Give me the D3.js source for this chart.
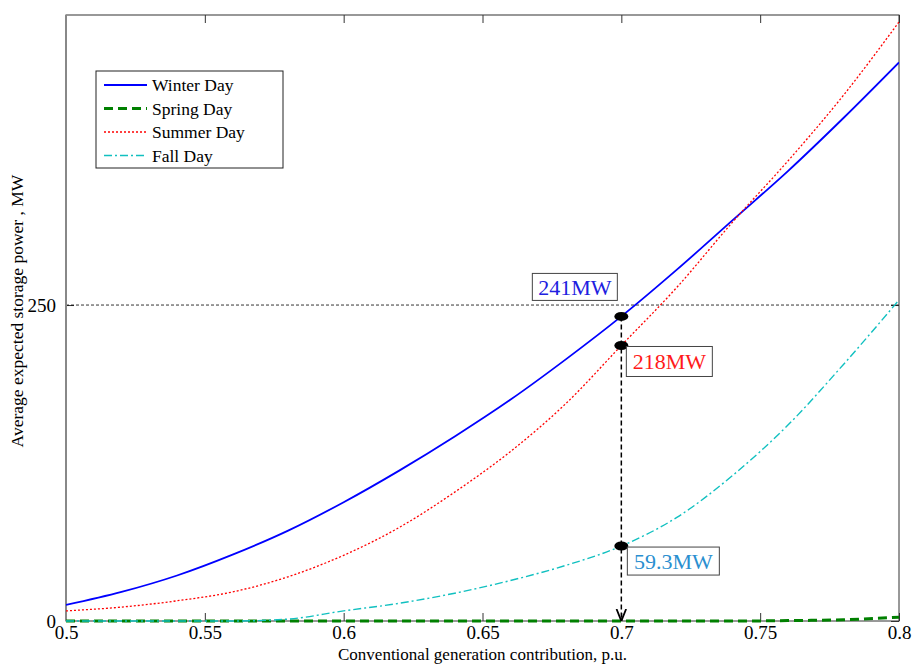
<!DOCTYPE html>
<html>
<head>
<meta charset="utf-8">
<script src="https://cdn.jsdelivr.net/npm/d3@7"></script>
<style>
  body { margin: 0; background: #fff; }
  svg text { font-family: "Liberation Serif", "Times New Roman", serif; }
</style>
</head>
<body>
<div id="chart"></div>
<script>
// chart data
var xs = [0.5, 0.52, 0.54, 0.56, 0.58, 0.6, 0.62, 0.64, 0.66, 0.68, 0.7, 0.72, 0.74, 0.76, 0.78, 0.8];
var winter = [12.7, 23, 36, 52.5, 71.5, 94, 119, 146, 175, 207, 241, 278, 317, 356, 398, 442];
var spring = [0, 0, 0, 0, 0, 0, 0, 0, 0, 0, 0, 0, 0, 0.3, 1, 3];
var summer = [8, 11, 16, 23, 35, 52, 74, 102, 134, 172, 218, 264, 315.5, 364, 416, 474];
var fall = [0, 0, 0, 0, 1.5, 8, 14, 22, 32, 44, 59.3, 82, 115, 155, 203, 254];
var xTicks = [0.5, 0.55, 0.6, 0.65, 0.7, 0.75, 0.8];
var yTicks = [0, 250];
var marks = [
  { value: 241, label: "241MW", color: "#2020e0" },
  { value: 218, label: "218MW", color: "#ff1a1a" },
  { value: 59.3, label: "59.3MW", color: "#2a8fd0" }
];

var width = 912, height = 665;
var margin = { top: 15, right: 13, bottom: 44, left: 66 };
var w = width - margin.left - margin.right;
var h = height - margin.top - margin.bottom;

var x = d3.scaleLinear().domain([0.5, 0.8]).range([0, w]);
var y = d3.scaleLinear().domain([0, 479.5]).range([h, 0]);

var svg = d3.select("#chart").append("svg")
  .attr("width", width).attr("height", height);

var defs = svg.append("defs");
defs.append("clipPath").attr("id", "clip")
  .append("rect").attr("y", -2).attr("width", w).attr("height", h + 5);

var g = svg.append("g")
  .attr("transform", "translate(" + margin.left + "," + margin.top + ")");

// axes
var xAxis = g.append("g").attr("transform", "translate(0," + h + ")")
  .call(d3.axisBottom(x).tickValues(xTicks).tickSizeInner(-8).tickSizeOuter(0).tickPadding(5)
    .tickFormat(function(d) { return String(+d.toFixed(2)); }));
var xTop = g.append("g")
  .call(d3.axisTop(x).tickValues(xTicks).tickSizeInner(-8).tickSizeOuter(0).tickFormat(""));
var yAxis = g.append("g")
  .call(d3.axisLeft(y).tickValues(yTicks).tickSizeInner(-8).tickSizeOuter(0).tickPadding(10));
var yRight = g.append("g").attr("transform", "translate(" + w + ",0)")
  .call(d3.axisRight(y).tickValues(yTicks).tickSizeInner(-8).tickSizeOuter(0).tickFormat(""));

[xAxis, xTop, yAxis, yRight].forEach(function(a) {
  a.select(".domain").remove();
  a.selectAll("line").attr("stroke", "#333");
  a.selectAll("text").attr("fill", "#000").style("font-size", "19px")
    .style("font-family", "Liberation Serif, serif");
});

// horizontal reference at 250
g.append("line")
  .attr("x1", 0).attr("x2", w)
  .attr("y1", y(250)).attr("y2", y(250))
  .attr("stroke", "#000").attr("stroke-width", 0.8).attr("stroke-dasharray", "3,2");

var line = d3.line()
  .x(function(d, i) { return x(xs[i]); })
  .y(function(d) { return y(d); })
  .curve(d3.curveMonotoneX);

var series = [
  { name: "Winter Day", data: winter, color: "#0000ff", width: 1.8, dash: null },
  { name: "Spring Day", data: spring, color: "#008000", width: 3, dash: "9,5" },
  { name: "Summer Day", data: summer, color: "#ff0000", width: 1.3, dash: "2,2" },
  { name: "Fall Day", data: fall, color: "#11c0c0", width: 1.4, dash: "8,3,2,3" }
];

// frame
g.append("rect").attr("width", w).attr("height", h)
  .attr("fill", "none").attr("stroke", "#333").attr("stroke-width", 1);
g.append("line").attr("x1", 0).attr("x2", 0).attr("y1", 0).attr("y2", h)
  .attr("stroke", "#888").attr("stroke-width", 2);

var plot = g.append("g").attr("clip-path", "url(#clip)");
series.forEach(function(s) {
  plot.append("path")
    .datum(s.data)
    .attr("fill", "none")
    .attr("stroke", s.color)
    .attr("stroke-width", s.width)
    .attr("stroke-dasharray", s.dash)
    .attr("d", line);
});

// vertical dashed line at 0.7 with arrow
defs.append("marker").attr("id", "arrow")
  .attr("viewBox", "0 0 10 10").attr("refX", 10).attr("refY", 5)
  .attr("markerWidth", 8).attr("markerHeight", 10).attr("orient", "auto")
  .append("path").attr("d", "M0,1 L10,5 L0,9").attr("fill", "none")
  .attr("stroke", "#000").attr("stroke-width", 1.5);

g.append("line")
  .attr("x1", x(0.7)).attr("x2", x(0.7))
  .attr("y1", y(241)).attr("y2", y(0))
  .attr("stroke", "#000").attr("stroke-width", 1.5).attr("stroke-dasharray", "5,3")
  .attr("marker-end", "url(#arrow)");

// markers and labels
var labelPos = [
  { dx: -89, dy: -43, w: 85, h: 27 },
  { dx: 5, dy: 1, w: 86, h: 30 },
  { dx: 6, dy: 1, w: 92, h: 28 }
];
marks.forEach(function(m, i) {
  var cx = x(0.7), cy = y(m.value);
  g.append("ellipse").attr("cx", cx).attr("cy", cy).attr("rx", 7).attr("ry", 4.5).attr("fill", "#000");
  var p = labelPos[i];
  g.append("rect")
    .attr("x", cx + p.dx).attr("y", cy + p.dy).attr("width", p.w).attr("height", p.h)
    .attr("fill", "#fff").attr("stroke", "#444").attr("stroke-width", 1);
  g.append("text")
    .attr("x", cx + p.dx + p.w / 2).attr("y", cy + p.dy + p.h / 2)
    .attr("dy", "0.36em").attr("text-anchor", "middle")
    .attr("fill", m.color).style("font-size", "22px")
    .text(m.label);
});

// legend
var legend = g.append("g").attr("transform", "translate(30,56)");
legend.append("rect").attr("width", 187).attr("height", 97)
  .attr("fill", "#fff").attr("stroke", "#222").attr("stroke-width", 1);
series.forEach(function(s, i) {
  var ly = 14 + i * 23.5;
  legend.append("line")
    .attr("x1", 8).attr("x2", 51).attr("y1", ly).attr("y2", ly)
    .attr("stroke", s.color).attr("stroke-width", s.width)
    .attr("stroke-dasharray", s.dash);
  legend.append("text")
    .attr("x", 56).attr("y", ly).attr("dy", "0.35em")
    .style("font-size", "17.5px").attr("fill", "#000")
    .text(s.name);
});

// axis titles
svg.append("text")
  .attr("x", margin.left + w / 2).attr("y", 660)
  .attr("text-anchor", "middle").style("font-size", "17px")
  .text("Conventional generation contribution, p.u.");
svg.append("text")
  .attr("transform", "translate(23," + 311 + ") rotate(-90)")
  .attr("text-anchor", "middle").style("font-size", "17.5px")
  .text("Average expected storage power , MW");
</script>
</body>
</html>
